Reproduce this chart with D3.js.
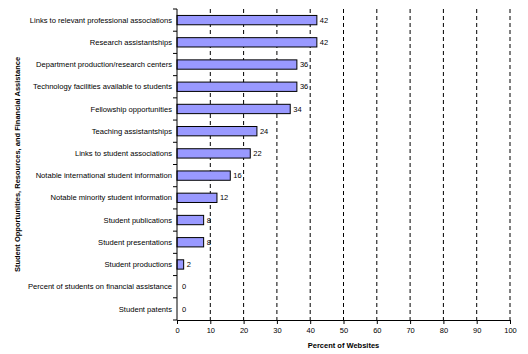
<!DOCTYPE html>
<html>
<head>
<meta charset="utf-8">
<script src="https://cdn.jsdelivr.net/npm/d3@7"></script>
<style>
  body { margin: 0; background: #fff; }
  text { font-family: "Liberation Sans", Arial, sans-serif; fill: #000; }
</style>
</head>
<body>
<svg id="chart"></svg>
<script>
const categories = [
  "Links to relevant professional associations",
  "Research assistantships",
  "Department production/research centers",
  "Technology facilities available to students",
  "Fellowship opportunities",
  "Teaching assistantships",
  "Links to student associations",
  "Notable international student information",
  "Notable minority student information",
  "Student publications",
  "Student presentations",
  "Student productions",
  "Percent of students on financial assistance",
  "Student patents"
];
const values = [42, 42, 36, 36, 34, 24, 22, 16, 12, 8, 8, 2, 0, 0];
const xTicks = [0, 10, 20, 30, 40, 50, 60, 70, 80, 90, 100];

const W = 528, H = 354;
const margin = { top: 9, right: 18, bottom: 34, left: 177 };
const innerW = W - margin.left - margin.right;
const innerH = H - margin.top - margin.bottom;

const svg = d3.select("#chart").attr("width", W).attr("height", H);
const g = svg.append("g").attr("transform", `translate(${margin.left},${margin.top})`);

const x = d3.scaleLinear().domain([0, 100]).range([0, innerW]);
const y = d3.scaleBand().domain(categories).range([0, innerH]).paddingInner(0.58).paddingOuter(0.29);
const step = y.step();

// dashed gridlines
g.selectAll(".grid")
  .data(xTicks.filter(d => d > 0))
  .enter().append("line")
  .attr("x1", d => x(d)).attr("x2", d => x(d))
  .attr("y1", 0).attr("y2", innerH)
  .attr("stroke", "#000").attr("stroke-width", 1)
  .attr("stroke-dasharray", "4,3");

// bars
g.selectAll(".bar")
  .data(values).enter().append("rect")
  .attr("x", 0)
  .attr("y", (d, i) => y(categories[i]))
  .attr("width", d => x(d))
  .attr("height", y.bandwidth())
  .attr("fill", d => d > 0 ? "#9999ff" : "none")
  .attr("stroke", d => d > 0 ? "#000" : "none")
  .attr("stroke-width", 1);

// value labels
g.selectAll(".vlabel")
  .data(values).enter().append("text")
  .attr("x", d => x(d) + (d > 0 ? 3 : 5))
  .attr("y", (d, i) => y(categories[i]) + y.bandwidth() / 2)
  .attr("dy", "0.35em")
  .attr("font-size", 7.5)
  .text(d => d);

// category labels
g.selectAll(".clabel")
  .data(categories).enter().append("text")
  .attr("x", -5)
  .attr("y", d => y(d) + y.bandwidth() / 2)
  .attr("dy", "0.35em")
  .attr("text-anchor", "end")
  .attr("font-size", 7.6)
  .text(d => d);

// y axis line and category ticks
g.append("line").attr("x1", 0).attr("x2", 0).attr("y1", 0).attr("y2", innerH)
  .attr("stroke", "#000");
g.selectAll(".ytick")
  .data(d3.range(categories.length + 1)).enter().append("line")
  .attr("x1", -4).attr("x2", 0)
  .attr("y1", i => i * step).attr("y2", i => i * step)
  .attr("stroke", "#000");

// x axis
const xAxis = g.append("g")
  .attr("transform", `translate(0,${innerH})`)
  .call(d3.axisBottom(x).tickValues(xTicks).tickSize(4).tickPadding(4));
xAxis.select(".domain").attr("stroke", "#000");
xAxis.selectAll("text").attr("font-size", 7.5).style("font-family", '"Liberation Sans", Arial, sans-serif');

// titles
svg.append("text")
  .attr("x", margin.left + innerW / 2).attr("y", H - 6)
  .attr("text-anchor", "middle")
  .attr("font-size", 7.5).attr("font-weight", "bold")
  .text("Percent of Websites");

svg.append("text")
  .attr("transform", `translate(20,${margin.top + innerH / 2}) rotate(-90)`)
  .attr("text-anchor", "middle")
  .attr("font-size", 7.5).attr("font-weight", "bold")
  .text("Student Opportunities, Resources, and Financial Assistance");
</script>
</body>
</html>
